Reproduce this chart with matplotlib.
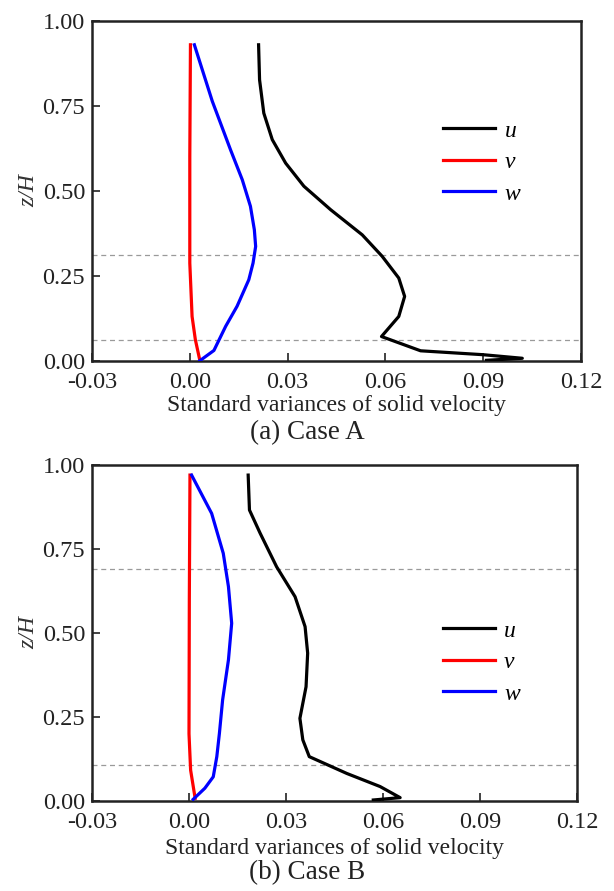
import matplotlib
matplotlib.use("Agg")
import matplotlib.pyplot as plt

plt.rcParams["font.family"] = ["Liberation Serif", "DejaVu Serif"]

# Case A profiles (value, z/H)
a_u_val = [0.0211, 0.0214, 0.0227, 0.0253, 0.0294, 0.0350, 0.0432, 0.0529, 0.0590,
           0.0641, 0.0659, 0.0641, 0.0588, 0.0708, 0.0900, 0.1020, 0.0910]
a_u_z = [0.930, 0.827, 0.729, 0.651, 0.582, 0.514, 0.445, 0.371, 0.308,
         0.244, 0.190, 0.131, 0.072, 0.030, 0.0185, 0.008, 0.002]
a_v_val = [0.0002, 0.0000, 0.0000, 0.0007, 0.0017, 0.0031]
a_v_z = [0.930, 0.600, 0.288, 0.131, 0.063, 0.001]
a_w_val = [0.0014, 0.0069, 0.0125, 0.0161, 0.0186, 0.0198, 0.0202, 0.0194, 0.0181,
           0.0145, 0.0110, 0.0074, 0.0031]
a_w_z = [0.930, 0.764, 0.621, 0.533, 0.455, 0.386, 0.337, 0.288, 0.239,
         0.161, 0.102, 0.031, 0.001]
a_dash = [0.311, 0.063]

# Case B profiles (value, z/H)
b_u_val = [0.0183, 0.0187, 0.0220, 0.0271, 0.0328, 0.0359, 0.0367, 0.0362, 0.0343,
           0.0352, 0.0372, 0.0488, 0.0591, 0.0653, 0.0570]
b_u_z = [0.970, 0.866, 0.797, 0.697, 0.608, 0.519, 0.440, 0.340, 0.246,
         0.182, 0.132, 0.082, 0.043, 0.010, 0.003]
b_v_val = [0.0003, 0.0001, 0.0000, 0.0005, 0.0019]
b_v_z = [0.970, 0.600, 0.200, 0.092, 0.008]
b_w_val = [0.0008, 0.0070, 0.0106, 0.0122, 0.0132, 0.0122, 0.0104, 0.0094, 0.0086,
           0.0075, 0.0049, 0.0013]
b_w_z = [0.970, 0.856, 0.737, 0.638, 0.529, 0.420, 0.301, 0.201, 0.132,
         0.072, 0.038, 0.005]
b_dash = [0.690, 0.107]

x_ticks = [-0.03, 0.00, 0.03, 0.06, 0.09, 0.12]
x_tick_labels = ["-0.03", "0.00", "0.03", "0.06", "0.09", "0.12"]
y_ticks = [0.00, 0.25, 0.50, 0.75, 1.00]
y_tick_labels = ["0.00", "0.25", "0.50", "0.75", "1.00"]
series_names = ["u", "v", "w"]
captions = ["(a) Case A", "(b) Case B"]
xlabel_text = "Standard variances of solid velocity"

W, H = 614, 891
fig = plt.figure(figsize=(W / 100, H / 100), dpi=100)
fig.patch.set_facecolor("white")


def px_rect(left, top, right, bottom):
    return [left / W, 1 - bottom / H, (right - left) / W, (bottom - top) / H]


axA = fig.add_axes(px_rect(92, 21, 581, 361))
axB = fig.add_axes(px_rect(92, 465, 577, 801))

panels = [
    (axA, (a_u_val, a_u_z), (a_v_val, a_v_z), (a_w_val, a_w_z), a_dash, (0.675, 0.584), 1.0),
    (axB, (b_u_val, b_u_z), (b_v_val, b_v_z), (b_w_val, b_w_z), b_dash, (0.679, 0.4125), 3.5),
]

for i, (ax, u, v, w, dashes, leg_pos, lpad) in enumerate(panels):
    for zd in dashes:
        ax.axhline(zd, color="#9a9a9a", lw=0.9, ls=(0, (4, 3)), zorder=1)
    ax.plot(u[0], u[1], color="black", lw=2.3, label=series_names[0], zorder=3)
    ax.plot(v[0], v[1], color="#ff0000", lw=2.3, label=series_names[1], zorder=3)
    ax.plot(w[0], w[1], color="#0000ff", lw=2.3, label=series_names[2], zorder=3)

    ax.set_xlim(-0.03, 0.12)
    ax.set_ylim(0.0, 1.0)
    ax.set_xticks(x_ticks)
    ax.set_xticklabels(x_tick_labels)
    ax.set_yticks(y_ticks)
    ax.set_yticklabels(y_tick_labels)
    ax.tick_params(direction="in", length=6, width=1.2, labelsize=17.5,
                   top=False, right=False, colors="#222222")
    ax.tick_params(axis="x", pad=8)
    ax.tick_params(axis="y", pad=5)
    for s in ax.spines.values():
        s.set_linewidth(1.8)
        s.set_color("#222222")

    ax.set_xlabel(xlabel_text, fontsize=17, labelpad=lpad, color="#222222")
    ax.set_ylabel("z/H", fontsize=17, style="italic", labelpad=2, color="#333333")

    ax.legend(loc="center left", bbox_to_anchor=leg_pos, frameon=False,
              prop={"style": "italic", "size": 17}, handlelength=2.2,
              handletextpad=0.4, labelspacing=0.42)

fig.text(0.5, 1 - 433 / H, captions[0], ha="center", va="center", fontsize=19.5, color="#222222")
fig.text(0.5, 1 - 873 / H, captions[1], ha="center", va="center", fontsize=19.5, color="#222222")

fig.savefig("out.png", dpi=100, facecolor="white")
